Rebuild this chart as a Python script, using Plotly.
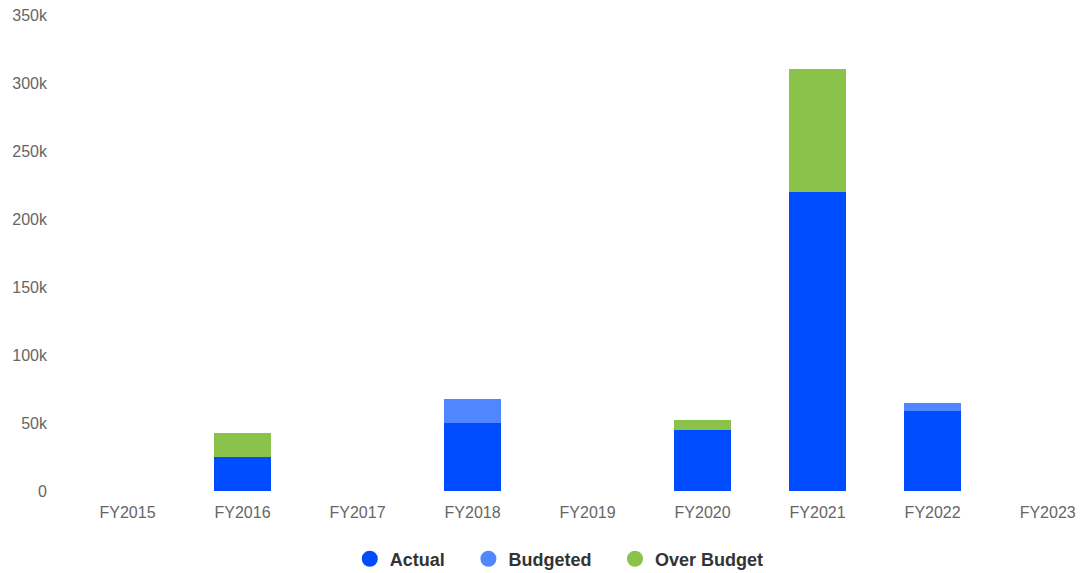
import plotly.graph_objects as go

categories = ["FY2015", "FY2016", "FY2017", "FY2018", "FY2019", "FY2020", "FY2021", "FY2022", "FY2023"]
actual = [0, 25000, 0, 50000, 0, 44800, 220000, 58700, 0]
budgeted = [0, 0, 0, 17500, 0, 0, 0, 5900, 0]
over_budget = [0, 17600, 0, 0, 0, 7300, 90400, 0, 0]

tick_vals = [0, 50000, 100000, 150000, 200000, 250000, 300000, 350000]
tick_text = ["0", "50k", "100k", "150k", "200k", "250k", "300k", "350k"]

series_names = ["Actual", "Budgeted", "Over Budget"]
series_colors = ["#004CFF", "#5086FF", "#8BC34A"]
series_values = [actual, budgeted, over_budget]

fig = go.Figure()
for name, color, vals in zip(series_names, series_colors, series_values):
    fig.add_trace(go.Bar(
        x=categories, y=vals, name=name, marker=dict(color=color, line=dict(width=0)),
        width=0.49, showlegend=False, hoverinfo="x+y+name",
    ))
pad = "\u00a0" * 3 + "\u2009"
for name, color in zip(series_names, series_colors):
    fig.add_trace(go.Scatter(
        x=[None], y=[None], mode="markers", name=name + pad,
        marker=dict(symbol="circle", size=18, color=color),
        showlegend=True,
    ))

fig.update_layout(
    barmode="stack",
    width=1081, height=573,
    margin=dict(l=70, r=0, t=15, b=82),
    paper_bgcolor="white", plot_bgcolor="white",
    font=dict(family="Liberation Sans, Arial, Helvetica, sans-serif", size=16, color="#666666"),
    xaxis=dict(
        range=[-0.5, 8.29], showgrid=False, zeroline=False, showline=False,
        ticks="", tickfont=dict(size=16, color="#666666"), ticklabelstandoff=10,
        fixedrange=True,
    ),
    yaxis=dict(
        range=[0, 350000], tickvals=tick_vals, ticktext=tick_text,
        showgrid=False, zeroline=False, showline=False, ticks="",
        tickfont=dict(size=16, color="#666666"), ticklabelstandoff=22,
        fixedrange=True,
    ),
    legend=dict(
        orientation="h", xref="container", yref="container",
        x=0.5257, xanchor="center", y=0.0244, yanchor="middle",
        traceorder="normal",
        font=dict(size=18, color="#333333", family="Liberation Sans, Arial, sans-serif", weight="bold"),
        itemsizing="trace", bgcolor="rgba(0,0,0,0)",
    ),
    showlegend=True,
)

fig.write_html("out.html", config={"displayModeBar": False},
               post_script="document.body.style.margin='0';document.body.style.padding='0';")
